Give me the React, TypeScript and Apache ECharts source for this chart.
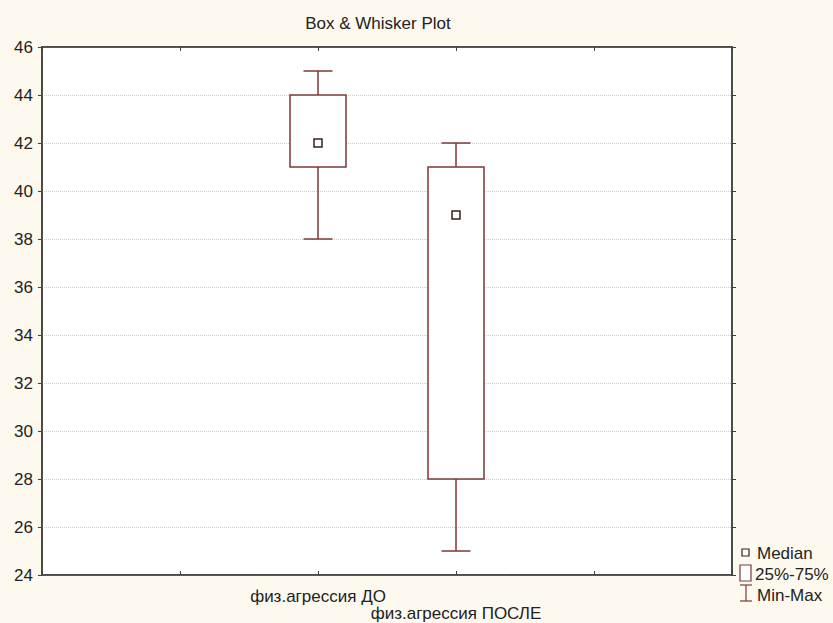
import React, { useEffect, useRef } from "react";
import * as echarts from "echarts";

const categories = ["", "", "физ.агрессия ДО", "физ.агрессия ПОСЛЕ", "", ""];
// [categoryIndex, min, q1, median, q3, max]
const boxDO = [2, 38, 41, 42, 44, 45];
const boxPOSLE = [3, 25, 28, 39, 41, 42];
const yTicks = { min: 24, max: 46, interval: 2 };
const legendLabels = ["Median", "25%-75%", "Min-Max"];

const BOX = "#7a3a3a";
const FONT = "Liberation Sans, Arial, sans-serif";
const TXT = "#222";

export default function App() {
  const ref = useRef<HTMLDivElement>(null);
  useEffect(() => {
    const chart = echarts.init(ref.current!, null, { renderer: "svg" });
    const left = 42, right = 833 - 732, top = 47, bottom = 623 - 575;
    chart.setOption({
      animation: false,
      backgroundColor: "#fdf9ef",
      title: {
        text: "Box & Whisker Plot",
        left: 373,
        textAlign: "center",
        top: 10,
        textStyle: { fontFamily: FONT, fontSize: 17, fontWeight: "normal", color: TXT },
      },
      grid: {
        left, right, top, bottom,
        show: true,
        backgroundColor: "#ffffff",
        borderColor: "#404040",
        borderWidth: 1.5,
      },
      xAxis: [
        {
          type: "category",
          data: categories,
          boundaryGap: false,
          axisLine: { show: true, lineStyle: { color: "#404040", width: 1.5 } },
          axisTick: { show: true, inside: true, length: 4, interval: 0, lineStyle: { color: "#404040" } },
          axisLabel: {
            interval: 0,
            hideOverlap: false,
            margin: 13,
            fontFamily: FONT,
            fontSize: 17,
            color: TXT,
            lineHeight: 17,
            formatter: (v: string) => (v === categories[3] ? "\n" + v : v),
          },
          splitLine: { show: false },
        },
        {
          type: "category",
          data: categories,
          boundaryGap: false,
          position: "top",
          axisLine: { show: true, lineStyle: { color: "#404040", width: 1.5 } },
          axisTick: { show: true, inside: true, length: 4, interval: 0, lineStyle: { color: "#404040" } },
          axisLabel: { show: false },
          splitLine: { show: false },
        },
      ],
      yAxis: [
        {
          type: "value",
          min: yTicks.min,
          max: yTicks.max,
          interval: yTicks.interval,
          axisLine: { show: true, lineStyle: { color: "#404040", width: 1.5 } },
          axisTick: { show: true, length: 4, lineStyle: { color: "#404040" } },
          axisLabel: { margin: 9, fontFamily: FONT, fontSize: 17, color: TXT },
          splitLine: { show: true, lineStyle: { color: "#cccccc", type: "dotted", width: 1 } },
        },
        {
          type: "value",
          min: yTicks.min,
          max: yTicks.max,
          interval: yTicks.interval,
          position: "right",
          axisLine: { show: true, lineStyle: { color: "#404040", width: 1.5 } },
          axisTick: { show: true, length: 4, lineStyle: { color: "#404040" } },
          axisLabel: { show: false },
          splitLine: { show: false },
        },
      ],
      series: [
        {
          type: "custom",
          xAxisIndex: 0,
          yAxisIndex: 0,
          encode: { x: 0, y: [1, 2, 3, 4, 5] },
          data: [boxDO, boxPOSLE],
          renderItem: (params: any, api: any) => {
            const x = api.value(0);
            const pMin = api.coord([x, api.value(1)]);
            const pQ1 = api.coord([x, api.value(2)]);
            const pMed = api.coord([x, api.value(3)]);
            const pQ3 = api.coord([x, api.value(4)]);
            const pMax = api.coord([x, api.value(5)]);
            const cx = pMed[0];
            const bw = 56, cw = 29, ms = 8;
            const ls = { stroke: BOX, lineWidth: 1.5 };
            return {
              type: "group",
              children: [
                { type: "line", shape: { x1: cx, y1: pMax[1], x2: cx, y2: pQ3[1] }, style: ls },
                { type: "line", shape: { x1: cx, y1: pQ1[1], x2: cx, y2: pMin[1] }, style: ls },
                { type: "line", shape: { x1: cx - cw / 2, y1: pMax[1], x2: cx + cw / 2, y2: pMax[1] }, style: ls },
                { type: "line", shape: { x1: cx - cw / 2, y1: pMin[1], x2: cx + cw / 2, y2: pMin[1] }, style: ls },
                {
                  type: "rect",
                  shape: { x: cx - bw / 2, y: pQ3[1], width: bw, height: pQ1[1] - pQ3[1] },
                  style: { fill: "#ffffff", stroke: BOX, lineWidth: 1.5 },
                },
                {
                  type: "rect",
                  shape: { x: cx - ms / 2, y: pMed[1] - ms / 2, width: ms, height: ms },
                  style: { fill: "#ffffff", stroke: "#3a2020", lineWidth: 1.5 },
                },
              ],
            };
          },
        },
      ],
      graphic: [
        { type: "rect", shape: { x: 742, y: 549, width: 7, height: 7 }, style: { fill: "#fff", stroke: "#3a2020", lineWidth: 1.2 } },
        { type: "text", x: 757, y: 553, style: { text: legendLabels[0], fontFamily: FONT, fontSize: 17, fill: TXT, verticalAlign: "middle" } },
        { type: "rect", shape: { x: 740, y: 565, width: 11, height: 16 }, style: { fill: "#fff", stroke: BOX, lineWidth: 1.2 } },
        { type: "text", x: 755, y: 574, style: { text: legendLabels[1], fontFamily: FONT, fontSize: 17, fill: TXT, verticalAlign: "middle" } },
        { type: "line", shape: { x1: 740, y1: 585, x2: 752, y2: 585 }, style: { stroke: BOX, lineWidth: 1.2 } },
        { type: "line", shape: { x1: 746, y1: 585, x2: 746, y2: 601 }, style: { stroke: BOX, lineWidth: 1.2 } },
        { type: "line", shape: { x1: 740, y1: 601, x2: 752, y2: 601 }, style: { stroke: BOX, lineWidth: 1.2 } },
        { type: "text", x: 757, y: 595, style: { text: legendLabels[2], fontFamily: FONT, fontSize: 17, fill: TXT, verticalAlign: "middle" } },
      ],
    });
    return () => chart.dispose();
  }, []);
  return <div ref={ref} style={{ position: "absolute", left: 0, top: 0, width: 833, height: 623 }} />;
}
